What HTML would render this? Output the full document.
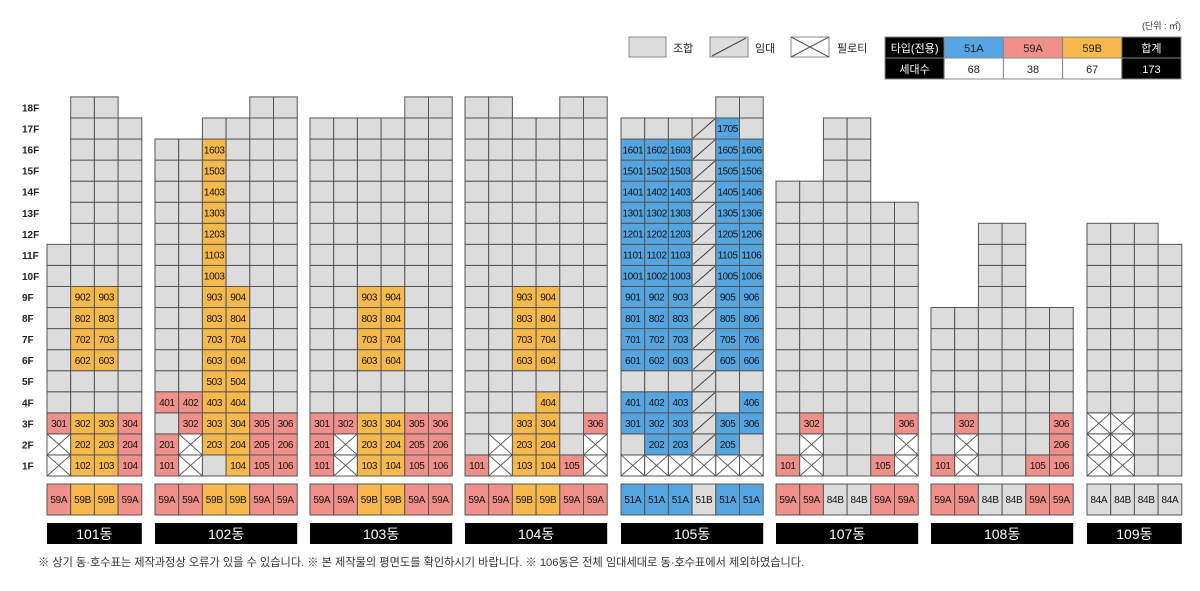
<!DOCTYPE html>
<html><head><meta charset="utf-8">
<style>
html,body{margin:0;padding:0;background:#fff;}
body{width:1200px;height:586px;overflow:hidden;font-family:"Liberation Sans","Noto Sans CJK KR",sans-serif;}
svg text{font-family:"Liberation Sans Narrow","Liberation Sans","Noto Sans CJK KR",sans-serif;}
.kr{font-family:"Liberation Sans","Noto Sans CJK KR",sans-serif !important;}
</style></head>
<body>
<svg id="chart" width="1200" height="586" viewBox="0 0 1200 586" xmlns="http://www.w3.org/2000/svg">
<g id="legend">
  <rect x="629" y="37" width="37" height="20" fill="#dcdcdc" stroke="#888"/>
  <text class="kr" x="673" y="52" font-size="11" fill="#222">조합</text>
  <rect x="710" y="37" width="38" height="20" fill="#dcdcdc" stroke="#888"/>
  <line x1="712" y1="56" x2="746" y2="38" stroke="#444"/>
  <text class="kr" x="755" y="52" font-size="11" fill="#222">임대</text>
  <rect x="791" y="37" width="38" height="20" fill="#fff" stroke="#888"/>
  <line x1="791" y1="37" x2="829" y2="57" stroke="#555"/>
  <line x1="791" y1="57" x2="829" y2="37" stroke="#555"/>
  <text class="kr" x="837" y="52" font-size="11" fill="#222">필로티</text>
</g>
<g id="summary"></g>
<text class="kr" x="1181" y="29" font-size="9" text-anchor="end" fill="#333">(단위 : ㎡)</text>
<g id="floors"></g>
<g id="grid"></g>
<text class="kr" x="38" y="566" font-size="11.2" fill="#333">※ 상기 동·호수표는 제작과정상 오류가 있을 수 있습니다.  ※ 본 제작물의 평면도를 확인하시기 바랍니다.  ※ 106동은 전체 임대세대로 동·호수표에서 제외하였습니다.</text>
</svg>
<script>
// ---- data ----
const buildingNames = ["101동","102동","103동","104동","105동","107동","108동","109동"];
// each column: one char per floor, bottom (1F) up. g=조합, x=필로티, r=임대, p=59A, y=59B, b=51A
const colsB101 = ["xxp"+"g".repeat(8), "yyyggyyyy"+"g".repeat(9), "yyyggyyyy"+"g".repeat(9), "ppp"+"g".repeat(14)];
const colsB102 = ["ppgp"+"g".repeat(12), "xxpp"+"g".repeat(12), "gyy"+"y".repeat(13)+"g", "yyy"+"yyyyyy"+"g".repeat(8), "ppp"+"g".repeat(15), "ppp"+"g".repeat(15)];
const colsB103 = ["ppp"+"g".repeat(14), "xxp"+"g".repeat(14), "yyyggyyyy"+"g".repeat(8), "yyyggyyyy"+"g".repeat(8), "ppp"+"g".repeat(15), "ppp"+"g".repeat(15)];
const colsB104 = ["pgg"+"g".repeat(15), "xxg"+"g".repeat(15), "yyyggyyyy"+"g".repeat(8), "yyyygyyyy"+"g".repeat(8), "pgg"+"g".repeat(15), "xxp"+"g".repeat(15)];
const colsB105 = ["xgbbg"+"b".repeat(11)+"g", "xbbbg"+"b".repeat(11)+"g", "xbbbg"+"b".repeat(11)+"g", "x"+"r".repeat(16), "xbbgg"+"b".repeat(12)+"g", "xgbbg"+"b".repeat(11)+"gg"];
const colsB107 = ["p"+"g".repeat(13), "xxp"+"g".repeat(11), "g".repeat(17), "g".repeat(17), "p"+"g".repeat(12), "xxp"+"g".repeat(10)];
const colsB108 = ["p"+"g".repeat(7), "xxp"+"g".repeat(5), "g".repeat(12), "g".repeat(12), "p"+"g".repeat(7), "ppp"+"g".repeat(5)];
const colsB109 = ["xxx"+"g".repeat(9), "xxx"+"g".repeat(9), "g".repeat(12), "g".repeat(11)];
const unitTypes = [["59A","59B","59B","59A"],["59A","59A","59B","59B","59A","59A"],["59A","59A","59B","59B","59A","59A"],["59A","59A","59B","59B","59A","59A"],["51A","51A","51A","51B","51A","51A"],["59A","59A","84B","84B","59A","59A"],["59A","59A","84B","84B","59A","59A"],["84A","84B","84B","84A"]];
const summaryHeads = ["타입(전용)","51A","59A","59B","합계"];
const summaryCounts = ["세대수","68","38","67","173"];

// ---- layout ----
const allCols = [colsB101,colsB102,colsB103,colsB104,colsB105,colsB107,colsB108,colsB109];
const bx = [47,155,310,465,621,776,931,1087];
const cw = 23.7, rh = 21.06, base = 476;
const fill = {g:"#dcdcdc",x:"#ffffff",r:"#dcdcdc",p:"#f0908a",y:"#f7b94c",b:"#55a5e0"};
const typeFill = {"59A":"#f0908a","59B":"#f7b94c","51A":"#55a5e0","51B":"#dcdcdc","84A":"#dcdcdc","84B":"#dcdcdc"};
const NS="http://www.w3.org/2000/svg";
function mk(tag, attrs, parent){const e=document.createElementNS(NS,tag);for(const k in attrs)e.setAttribute(k,attrs[k]);parent.appendChild(e);return e;}
const yOf = f => base - f*rh;

const fl = document.getElementById('floors');
for(let f=1; f<=18; f++){
  const t = mk('text',{x:22,y:yOf(f)+rh/2+4,'font-size':10,fill:'#222','font-weight':'bold'},fl);
  
  
  t.textContent = f+"F";
}
const grid = document.getElementById('grid');
allCols.forEach((cols,bi)=>{
  const g = mk('g',{},grid);
  
  
  cols.forEach((col,ci)=>{
    const x = bx[bi] + ci*cw;
    for(let i=0;i<col.length;i++){
      const f=i+1, c=col[i], y=yOf(f);
      const r = mk('rect',{x:x,y:y,width:cw,height:rh,fill:fill[c],stroke:'#555','stroke-width':1},g);
      
      
      if(c==='x'){
        mk('line',{x1:x,y1:y,x2:x+cw,y2:y+rh,stroke:'#555','stroke-width':0.9},g);
        mk('line',{x1:x,y1:y+rh,x2:x+cw,y2:y,stroke:'#555','stroke-width':0.9},g);
      } else if(c==='r'){
        mk('line',{x1:x+1,y1:y+rh-1,x2:x+cw-1,y2:y+1,stroke:'#333','stroke-width':0.9},g);
      } else if(c==='p'||c==='y'||c==='b'){
        const t = mk('text',{x:x+cw/2,y:y+rh/2+3.7,'font-size':10,'text-anchor':'middle',fill:'#111','letter-spacing':'-0.4'},g);
        
        
        t.textContent = String(f*100+ci+1);
      }
    }
    const ty = unitTypes[bi][ci];
    const tr = mk('rect',{x:x,y:484,width:cw,height:31,fill:typeFill[ty],stroke:'#555'},g);
    
    
    const tt = mk('text',{x:x+cw/2,y:503,'font-size':10,'text-anchor':'middle',fill:'#111','letter-spacing':'-0.3'},g);
    
    
    tt.textContent = ty;
  });
  const w = cols.length*cw;
  const lb = mk('rect',{x:bx[bi],y:523,width:w,height:21,fill:'#000'},g);
  
  
  const lt = mk('text',{x:bx[bi]+w/2,y:539,'font-size':14,'text-anchor':'middle',fill:'#fff',class:'kr'},g);
  
  
  lt.textContent = buildingNames[bi];
});

// summary table
const sm = document.getElementById('summary');
const headFill = ["#000","#55a5e0","#f0908a","#f7b94c","#000"];
const headTxt = ["#fff","#222","#222","#222","#fff"];
const tx0=885, tw=59.2;
summaryHeads.forEach((h,i)=>{
  const x=tx0+i*tw;
  const r=mk('rect',{x:x,y:37,width:tw,height:21,fill:headFill[i],stroke:'#888'},sm);
  
  
  const t=mk('text',{x:x+tw/2,y:52,'font-size':11,'text-anchor':'middle',fill:headTxt[i],class:'kr'},sm);
  
  
  t.textContent=h;
  const last = (i===0||i===4);
  const r2=mk('rect',{x:x,y:58,width:tw,height:21,fill:last?'#000':'#fff',stroke:'#888'},sm);
  
  
  const t2=mk('text',{x:x+tw/2,y:73,'font-size':11,'text-anchor':'middle',fill:last?'#fff':'#222',class:'kr'},sm);
  
  
  t2.textContent=summaryCounts[i];
});
</script>
</body></html>
